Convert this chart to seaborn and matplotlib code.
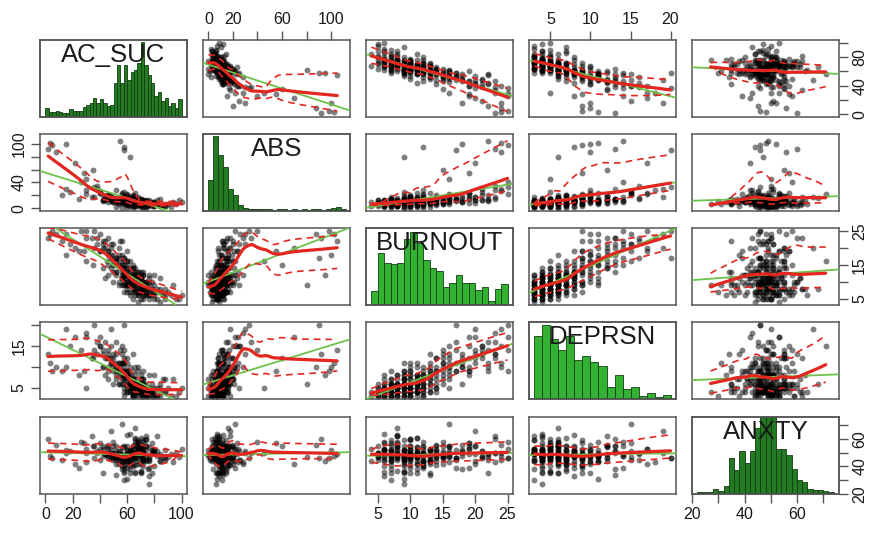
import numpy as np
import pandas as pd
import matplotlib
matplotlib.use("Agg")
import matplotlib.pyplot as plt
import seaborn as sns

# ---------------- data (read/estimated from the picture) ----------------
ac_suc = [88, 80, 75, 72, 70, 66, 74, 62, 68, 58,
          92, 84, 78, 64, 70, 76, 60, 55, 50, 62,
          70, 66, 90, 82, 58, 72, 56, 80, 64, 46,
          76, 68, 88, 74, 60, 84, 52, 70, 48, 42,
          96, 72, 62, 70, 80, 64, 70, 56, 60, 52,
          45, 58, 50, 40, 54, 38, 44, 34, 40, 30,
          66, 54, 60, 48, 56, 46, 36, 50, 38, 26,
          58, 15, 62, 55, 35, 5, 30, 22, 28, 3,
          100, 12, 2, 25, 18, 98, 94, 8, 15, 58,
          62, 58, 66, 76, 68, 64, 72, 82, 62, 58,
          66, 70, 62, 58, 64, 74, 78, 52, 42, 60,
          86, 66, 72, 64, 76, 48, 30, 54, 60, 56,
          64, 74, 70, 78, 58, 84, 68, 64, 60, 54,
          56, 48, 52, 60, 68, 46, 52, 40, 46, 36,
          70, 66, 60, 68, 64, 58, 72, 66, 76, 56,
          70, 66, 72, 62, 74, 64, 68, 60, 78, 58,
          72, 68, 64, 66, 70, 62, 56, 76, 70, 66,
          60, 72, 68, 62, 64, 80, 58, 54, 60, 70,
          76, 72, 66, 64, 62, 74, 68, 60, 66, 62,
          68, 64, 70, 60, 58, 56, 72, 68, 64, 58,
          70, 66, 62, 74, 64, 68, 60, 72, 58, 66,
          84, 50, 46, 88, 54, 44, 82, 50, 42, 78,
          64, 60, 70, 56, 68, 72, 52, 66, 74, 62,
          56, 52, 54, 48, 58, 46, 44, 52, 50, 42,
          80, 74, 70, 66, 72, 68, 76, 62, 60, 70]
abs_ = [6, 10, 4, 12, 8, 15, 3, 9, 18, 7,
        2, 14, 5, 20, 11, 6, 22, 13, 9, 16,
        8, 12, 6, 7, 25, 4, 17, 10, 6, 19,
        9, 15, 3, 11, 21, 5, 28, 8, 14, 12,
        7, 6, 18, 10, 4, 13, 9, 24, 7, 15,
        20, 11, 16, 23, 8, 30, 14, 18, 26, 22,
        10, 6, 19, 12, 9, 21, 17, 13, 35, 40,
        95, 100, 80, 105, 60, 98, 45, 70, 55, 102,
        9, 20, 92, 15, 25, 12, 10, 88, 30, 90,
        7, 11, 16, 6, 9, 12, 5, 13, 10, 17,
        8, 14, 6, 11, 19, 3, 9, 14, 11, 8,
        5, 23, 10, 15, 7, 20, 28, 16, 12, 9,
        4, 11, 6, 8, 16, 3, 9, 13, 5, 10,
        22, 18, 12, 7, 14, 10, 16, 24, 15, 33,
        10, 4, 12, 8, 15, 9, 7, 18, 12, 12,
        5, 8, 10, 12, 6, 14, 9, 11, 4, 13,
        7, 10, 15, 8, 12, 6, 16, 9, 5, 14,
        10, 12, 8, 11, 17, 3, 9, 13, 7, 15,
        6, 10, 14, 5, 9, 13, 7, 16, 11, 6,
        12, 8, 10, 14, 18, 12, 6, 9, 13, 10,
        10, 7, 12, 9, 15, 6, 11, 8, 14, 5,
        4, 16, 20, 3, 12, 18, 7, 10, 21, 6,
        0, 1, 2, 0, 3, 1, 2, 4, 0, 3,
        12, 9, 14, 11, 8, 16, 13, 10, 15, 12,
        8, 11, 5, 13, 9, 7, 10, 12, 6, 8]
burnout = [5, 6, 7, 8, 9, 10, 10, 11, 12, 13,
           6, 7, 8, 9, 10, 11, 12, 14, 15, 16,
           5, 6, 7, 8, 9, 10, 11, 12, 13, 18,
           6, 7, 8, 9, 10, 11, 12, 13, 14, 20,
           5, 6, 7, 8, 9, 10, 11, 13, 15, 17,
           16, 17, 18, 19, 20, 21, 22, 23, 24, 25,
           14, 15, 16, 17, 18, 19, 20, 21, 23, 25,
           12, 18, 9, 22, 15, 25, 16, 20, 19, 24,
           6, 22, 23, 19, 21, 5, 9, 24, 24, 17,
           6, 7, 8, 9, 10, 11, 12, 5, 13, 14,
           10, 9, 11, 12, 10, 8, 7, 16, 22, 19,
           6, 11, 13, 15, 12, 21, 23, 10, 8, 9,
           5, 6, 7, 10, 11, 4, 4, 12, 14, 18,
           16, 20, 13, 9, 7, 15, 17, 19, 23, 25,
           11, 12, 10, 13, 14, 16, 8, 9, 10, 22,
           8, 9, 10, 11, 7, 12, 9, 10, 6, 13,
           8, 11, 9, 12, 7, 10, 14, 6, 10, 11,
           13, 9, 8, 12, 10, 7, 11, 15, 16, 12,
           5, 6, 7, 8, 9, 10, 11, 12, 13, 14,
           6, 7, 8, 9, 10, 11, 12, 13, 14, 15,
           9, 10, 11, 8, 12, 7, 13, 10, 9, 11,
           8, 10, 12, 6, 9, 11, 7, 13, 14, 8,
           10, 9, 11, 12, 8, 7, 13, 10, 9, 11,
           15, 16, 17, 18, 14, 19, 20, 15, 16, 21,
           5, 6, 7, 8, 5, 6, 8, 9, 7, 10]
deprsn = [4, 5, 3, 6, 4, 7, 5, 8, 6, 9,
          3, 6, 4, 7, 3, 5, 9, 8, 11, 10,
          6, 4, 5, 3, 5, 9, 6, 4, 7, 12,
          8, 4, 7, 3, 6, 4, 10, 5, 12, 13,
          3, 6, 7, 5, 8, 4, 7, 11, 7, 9,
          12, 14, 10, 15, 11, 13, 16, 12, 15, 17,
          6, 9, 8, 11, 13, 10, 14, 12, 16, 14,
          8, 10, 6, 14, 12, 9, 5, 17, 9, 11,
          5, 9, 13, 8, 15, 4, 7, 10, 19, 20,
          4, 3, 6, 4, 5, 3, 7, 5, 6, 9,
          4, 6, 5, 8, 7, 4, 6, 7, 10, 12,
          7, 10, 4, 13, 5, 15, 18, 11, 8, 9,
          3, 3, 4, 3, 4, 3, 4, 3, 4, 6,
          15, 19, 13, 11, 9, 14, 16, 17, 13, 20,
          6, 5, 8, 10, 5, 11, 5, 3, 4, 11,
          5, 6, 5, 7, 4, 6, 5, 8, 4, 7,
          3, 6, 4, 8, 5, 6, 9, 3, 4, 5,
          8, 7, 6, 4, 9, 3, 8, 10, 9, 7,
          4, 5, 6, 3, 5, 6, 4, 5, 6, 7,
          6, 7, 8, 9, 10, 11, 3, 4, 5, 6,
          5, 6, 7, 4, 6, 5, 8, 3, 7, 4,
          5, 6, 7, 4, 6, 8, 3, 9, 10, 4,
          5, 6, 4, 7, 5, 6, 8, 4, 3, 6,
          8, 10, 9, 11, 12, 9, 12, 11, 13, 14,
          3, 4, 5, 6, 5, 3, 4, 8, 4, 5]
anxty = [45, 52, 38, 55, 48, 41, 60, 47, 50, 35,
         49, 44, 57, 42, 53, 46, 39, 51, 58, 43,
         55, 36, 47, 62, 45, 50, 54, 40, 48, 56,
         33, 51, 46, 59, 44, 49, 42, 53, 47, 55,
         50, 58, 41, 37, 52, 45, 61, 43, 50, 46,
         54, 39, 48, 57, 44, 51, 49, 62, 45, 53,
         56, 42, 47, 52, 38, 49, 55, 46, 50, 58,
         44, 52, 47, 49, 55, 46, 50, 42, 57, 48,
         53, 45, 60, 39, 51, 47, 43, 56, 50, 46,
         64, 30, 68, 27, 46, 50, 44, 48, 52, 41,
         35, 35, 35, 55, 55, 55, 35, 55, 35, 55,
         47, 49, 45, 51, 54, 47, 43, 49, 63, 40,
         50, 45, 48, 52, 47, 44, 53, 49, 46, 51,
         71, 66, 34, 31, 59, 48, 45, 53, 50, 46,
         42, 58, 49, 44, 55, 48, 51, 46, 39, 47,
         48, 50, 46, 52, 44, 49, 55, 47, 51, 45,
         53, 42, 48, 50, 56, 46, 49, 44, 52, 47,
         51, 45, 58, 43, 49, 50, 54, 46, 48, 52,
         47, 40, 53, 49, 45, 55, 50, 44, 48, 51,
         57, 46, 49, 52, 47, 44, 50, 53, 48, 46,
         36, 60, 38, 62, 40, 57, 42, 59, 37, 61,
         48, 50, 46, 52, 47, 49, 51, 45, 53, 50,
         49, 46, 51, 48, 54, 45, 50, 47, 52, 49,
         48, 51, 46, 50, 44, 53, 49, 47, 55, 48,
         50, 47, 52, 46, 49, 53, 45, 51, 48, 50]

var_names = ["AC_SUC", "ABS", "BURNOUT", "DEPRSN", "ANXTY"]

# histogram bin edges and bar heights (percent of panel height) read from the diagonal
ac_hist_edges = list(np.arange(0, 100.01, 2.5))
ac_hist = [11, 5, 5, 7, 5, 4, 4, 10, 7, 7, 7, 12, 15, 18, 24, 18, 22, 18, 13, 15,
           44, 67, 44, 67, 48, 58, 61, 70, 97, 67, 54, 44, 26, 32, 20, 24, 14, 18, 11, 22]
abs_hist_edges = list(range(0, 113, 4))
abs_hist = [40, 97, 72, 57, 28, 20, 7, 3, 2, 1, 1, 2, 1, 0, 1, 1, 0, 1, 0, 1, 0, 1, 1, 0, 1, 3, 4, 2]
burnout_hist_edges = list(range(4, 26))
burnout_hist = [18, 67, 54, 53, 54, 85, 95, 80, 58, 48, 44, 22, 28, 39, 28, 28, 19, 22, 4, 20, 26]
deprsn_hist_edges = list(range(3, 21))
deprsn_hist = [82, 96, 78, 63, 81, 50, 56, 48, 42, 15, 30, 12, 15, 3, 7, 1, 4]
anxty_hist_edges = list(range(22, 75, 2))
anxty_hist = [2, 2, 2, 6, 3, 9, 46, 30, 56, 40, 55, 85, 100, 100, 100, 58, 58, 50, 32, 17, 15, 6, 4, 4, 3, 2]

df = pd.DataFrame({"AC_SUC": ac_suc, "ABS": abs_, "BURNOUT": burnout,
                   "DEPRSN": deprsn, "ANXTY": anxty})
hists = {"AC_SUC": (ac_hist_edges, ac_hist), "ABS": (abs_hist_edges, abs_hist),
         "BURNOUT": (burnout_hist_edges, burnout_hist),
         "DEPRSN": (deprsn_hist_edges, deprsn_hist),
         "ANXTY": (anxty_hist_edges, anxty_hist)}

# axis ranges (R-style range +/- 4%) and tick marks
lims = {"AC_SUC": (-4, 104), "ABS": (-4.4, 115.4), "BURNOUT": (3.16, 25.84),
        "DEPRSN": (2.32, 20.68), "ANXTY": (19.92, 76.08)}
tick_vals = {"AC_SUC": [0, 20, 40, 60, 80, 100], "ABS": [0, 20, 40, 60, 80, 100],
             "BURNOUT": [5, 10, 15, 20, 25], "DEPRSN": [5, 10, 15, 20],
             "ANXTY": [20, 30, 40, 50, 60, 70]}
x_tick_labels = {"AC_SUC": ["0", "20", "", "60", "", "100"],
                 "ABS": ["0", "20", "", "60", "", "100"],
                 "BURNOUT": ["5", "10", "15", "20", "25"],
                 "DEPRSN": ["5", "10", "15", "20"],
                 "ANXTY": ["20", "", "40", "", "60", ""]}
y_tick_labels = {"AC_SUC": ["0", "", "40", "", "80", ""],
                 "ABS": ["0", "", "40", "", "", "100"],
                 "BURNOUT": ["5", "", "15", "", "25"],
                 "DEPRSN": ["5", "", "15", ""],
                 "ANXTY": ["20", "", "40", "", "60", ""]}

# ---------------- styling ----------------
sns.set_theme(style="white")
plt.rcParams["font.family"] = ["Liberation Sans", "DejaVu Sans"]

RED = "#e3261f"
GREEN = "#6cc24a"
FRAME = "#555555"
hist_fill = {"AC_SUC": "#237a23", "ABS": "#237a23", "BURNOUT": "#33b133",
             "DEPRSN": "#33b133", "ANXTY": "#237a23"}
HIST_EDGE = "#123d12"

W, H = 875, 534
fig = plt.figure(figsize=(W / 100, H / 100), dpi=100)
fig.patch.set_facecolor("white")
col_left = [40, 203, 366, 529, 692]
row_top = [40, 134, 228, 322, 417]
pw, ph = 147, 77


def px_axes(l, t, w, h):
    return fig.add_axes([l / W, 1 - (t + h) / H, w / W, h / H])


def lowess(x, y, grid, frac=0.5):
    k = max(int(np.ceil(frac * len(x))), 3)
    out = []
    for g in grid:
        d = np.abs(x - g)
        h = max(np.sort(d)[k - 1], 1e-9) * 1.0001
        w = np.clip(1 - (d / h) ** 3, 0, None) ** 3
        sw = w.sum()
        xm = (w * x).sum() / sw
        ym = (w * y).sum() / sw
        sxx = (w * (x - xm) ** 2).sum()
        b = (w * (x - xm) * (y - ym)).sum() / sxx if sxx > 0 else 0.0
        out.append(ym + b * (g - xm))
    return np.array(out)


def style_frame(ax):
    for s in ax.spines.values():
        s.set_visible(True)
        s.set_color(FRAME)
        s.set_linewidth(1.1)


tick_kw = dict(length=6.5, width=1.0, color=FRAME, labelcolor="#1a1a1a",
               labelsize=11.5, pad=3)

for i, yv in enumerate(var_names):
    for j, xv in enumerate(var_names):
        ax = px_axes(col_left[j], row_top[i], pw, ph)
        ax.set_facecolor("white")
        ax.set_xlim(*lims[xv])
        ax.set_ylim(*lims[yv])
        ax.set_xticks([])
        ax.set_yticks([])
        style_frame(ax)

        if i == j:
            tw = ax.twinx()
            edges, heights = hists[xv]
            centers = [(a + b) / 2 for a, b in zip(edges[:-1], edges[1:])]
            sns.histplot(x=centers, weights=heights, bins=edges, ax=tw,
                         color=hist_fill[xv], edgecolor=HIST_EDGE, linewidth=0.6,
                         alpha=1.0)
            tw.set_ylim(-1, 100)
            tw.set_xlim(*lims[xv])
            tw.set_yticks([])
            tw.set_ylabel("")
            tw.set_xlabel("")
            tw.tick_params(right=False, left=False)
            style_frame(tw)
            tw.text(0.5, 0.965, xv, transform=tw.transAxes, ha="center",
                    va="top", fontsize=18.5, color="#1a1a1a", zorder=10)
            ax.yaxis.set_ticks_position("right")
        else:
            xs = df[xv].to_numpy(float)
            ys = df[yv].to_numpy(float)
            sns.scatterplot(data=df, x=xv, y=yv, ax=ax, color="black",
                            alpha=0.5, s=18, linewidth=0, legend=False,
                            zorder=2)
            sns.regplot(data=df, x=xv, y=yv, ax=ax, scatter=False, ci=None,
                        truncate=False, color=GREEN,
                        line_kws={"lw": 1.3, "zorder": 3})
            grid = np.linspace(xs.min(), xs.max(), 80)
            fit = lowess(xs, ys, grid)
            fit_at = np.interp(xs, grid, fit)
            r = ys - fit_at
            pos, neg = r > 0, r < 0
            up = fit + np.sqrt(np.clip(lowess(xs[pos], r[pos] ** 2, grid), 0, None))
            lo = fit - np.sqrt(np.clip(lowess(xs[neg], r[neg] ** 2, grid), 0, None))
            ax.plot(grid, fit, color=RED, lw=2.3, zorder=5, solid_capstyle="round")
            ax.plot(grid, up, color=RED, lw=1.2, ls=(0, (4, 3)), zorder=4)
            ax.plot(grid, lo, color=RED, lw=1.2, ls=(0, (4, 3)), zorder=4)
            ax.set_xlim(*lims[xv])
            ax.set_ylim(*lims[yv])
            ax.set_xlabel("")
            ax.set_ylabel("")

        # outer axes, alternating as in R's pairs()
        if i == 0 and j % 2 == 1:
            ax.set_xticks(tick_vals[xv])
            ax.set_xticklabels(x_tick_labels[xv])
            ax.tick_params(axis="x", top=True, bottom=False, labeltop=True,
                           labelbottom=False, **tick_kw)
        if i == 4 and j % 2 == 0:
            ax.set_xticks(tick_vals[xv])
            ax.set_xticklabels(x_tick_labels[xv])
            ax.tick_params(axis="x", bottom=True, top=False, labelbottom=True,
                           labeltop=False, **tick_kw)
        if j == 0 and i % 2 == 1:
            ax.yaxis.set_ticks_position("left")
            ax.set_yticks(tick_vals[yv])
            ax.set_yticklabels(y_tick_labels[yv], rotation=90, va="center")
            ax.tick_params(axis="y", left=True, right=False, labelleft=True,
                           labelright=False, **tick_kw)
        if j == 4 and i % 2 == 0:
            ax.yaxis.set_ticks_position("right")
            ax.set_yticks(tick_vals[yv])
            ax.set_yticklabels(y_tick_labels[yv], rotation=90, va="center")
            ax.tick_params(axis="y", right=True, left=False, labelright=True,
                           labelleft=False, **tick_kw)

fig.savefig("out.png", dpi=100, facecolor="white")
